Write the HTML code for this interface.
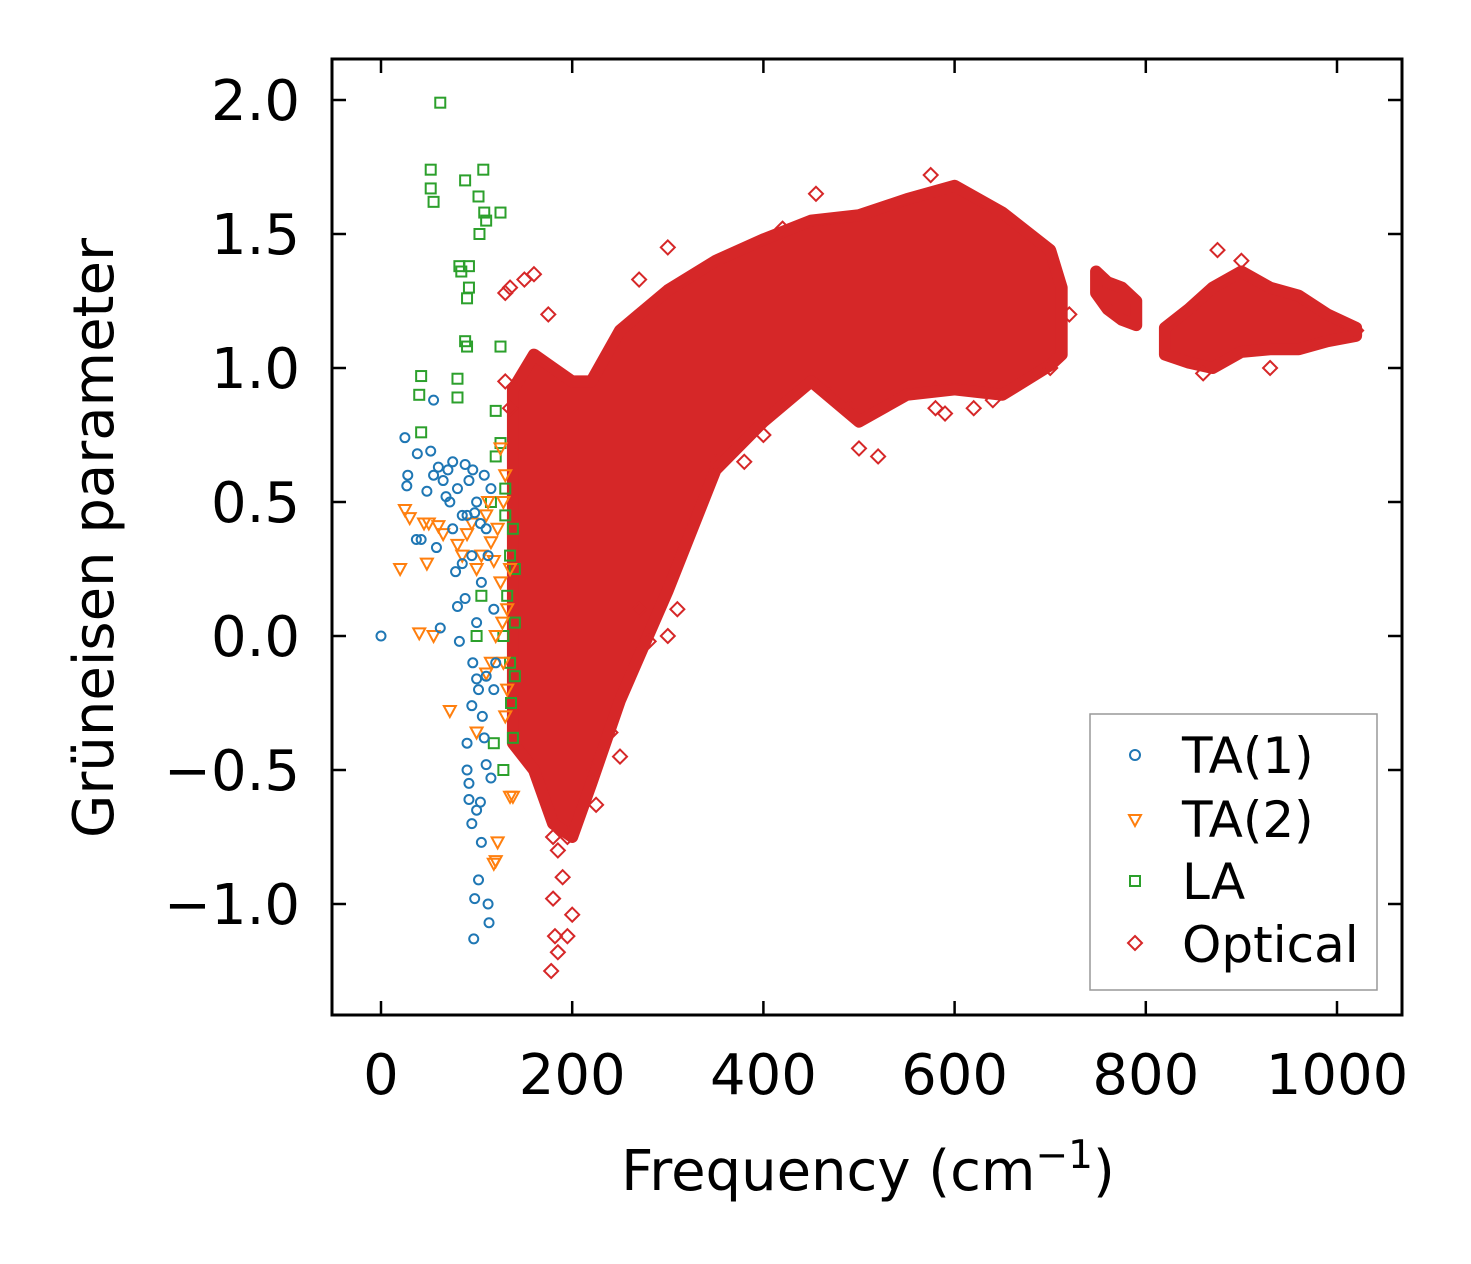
<!DOCTYPE html>
<html><head><meta charset="utf-8"><style>
html,body{margin:0;padding:0;background:#fff}
svg{display:block}
text{font-family:"DejaVu Sans","Liberation Sans",sans-serif;fill:#000}
</style></head><body>
<svg id="chart" width="1471" height="1264" viewBox="0 0 1471 1264" xmlns="http://www.w3.org/2000/svg">
<g id="plot"></g>
<rect x="332" y="59" width="1070" height="956" fill="none" stroke="#000" stroke-width="3"/>
<g id="axes"></g>
<text x="868" y="1190" font-size="56" text-anchor="middle">Frequency (cm<tspan dy="-22" font-size="39">−1</tspan><tspan dy="22">)</tspan></text>
<text transform="translate(113,538) rotate(-90)" font-size="56" text-anchor="middle">Grüneisen parameter</text>
<g>
<rect x="1090" y="714" width="287" height="276" fill="#fff" stroke="#999" stroke-width="1.5"/>
<circle cx="1135" cy="755" r="5" fill="none" stroke="#1f77b4" stroke-width="2"/>
<text x="1182" y="773" font-size="50">TA(1)</text>
<path d="M1129,815 L1141,815 L1135,826 Z" fill="none" stroke="#ff7f0e" stroke-width="2"/>
<text x="1182" y="837" font-size="50">TA(2)</text>
<rect x="1130" y="876" width="10" height="10" fill="none" stroke="#2ca02c" stroke-width="2"/>
<text x="1182" y="899" font-size="50">LA</text>
<path d="M1135,936 L1142,943 L1135,950 L1128,943 Z" fill="none" stroke="#d62728" stroke-width="2"/>
<text x="1182" y="962" font-size="50">Optical</text>
</g>
</svg>
<script>
const xTicks=[0,200,400,600,800,1000];
const yTicks=[-1.0,-0.5,0.0,0.5,1.0,1.5,2.0];
const yTickLabels=["−1.0","−0.5","0.0","0.5","1.0","1.5","2.0"];
const ta1=[[0,0],[25,0.74],[27,0.56],[28,0.6],[38,0.68],[37,0.36],[42,0.36],[48,0.54],[52,0.69],[55,0.88],[55,0.6],[58,0.33],[60,0.63],[62,0.03],[65,0.58],[70,0.62],[72,0.5],[75,0.4],[78,0.24],[80,0.11],[82,-0.02],[85,0.27],[88,0.14],[90,-0.4],[90,-0.5],[92,-0.55],[92,-0.61],[95,-0.7],[95,-0.26],[96,-0.1],[98,-0.98],[97,-1.13],[100,-0.65],[102,-0.91],[104,-0.62],[105,-0.77],[108,-0.38],[110,-0.48],[112,-1.0],[113,-1.07],[115,-0.53],[118,-0.2],[100,0.05],[105,0.2],[110,0.4],[115,0.55],[90,0.45],[100,0.5],[108,0.6],[112,0.3],[95,0.3],[102,-0.2],[106,-0.3],[118,0.1],[120,-0.1],[85,0.45],[80,0.55],[75,0.65],[68,0.52],[92,0.58],[98,0.46],[104,0.42],[88,0.64],[96,0.62],[110,-0.15],[100,-0.16]];
const ta2=[[20,0.25],[25,0.47],[30,0.44],[40,0.01],[48,0.27],[50,0.42],[55,0.0],[60,0.41],[72,-0.28],[80,0.34],[85,0.3],[90,0.38],[95,0.42],[100,0.25],[105,0.3],[110,0.45],[115,0.35],[118,-0.85],[120,-0.84],[122,-0.77],[125,0.7],[128,0.5],[130,-0.3],[132,-0.2],[135,-0.6],[138,-0.6],[125,0.2],[120,0.0],[115,-0.1],[130,0.6],[100,-0.36],[110,-0.14],[127,0.05],[135,0.25],[112,0.5],[118,0.28],[122,0.4],[128,-0.1],[132,0.1],[45,0.42],[65,0.38]];
const la=[[62,1.99],[52,1.74],[52,1.67],[55,1.62],[88,1.7],[102,1.64],[107,1.74],[108,1.58],[110,1.55],[103,1.5],[125,1.58],[82,1.38],[84,1.36],[92,1.38],[90,1.26],[92,1.3],[88,1.1],[90,1.08],[125,1.08],[42,0.97],[40,0.9],[80,0.96],[80,0.89],[42,0.76],[120,0.84],[120,0.67],[125,0.72],[130,0.55],[130,0.45],[135,0.3],[140,0.25],[132,0.15],[128,0.0],[135,-0.1],[140,-0.15],[138,-0.38],[128,-0.5],[118,-0.4],[115,0.5],[105,0.15],[100,0.0],[138,0.4],[140,0.05],[136,-0.25]];
const optFreq=[138,160,180,200,220,250,300,350,400,450,500,550,600,650,700,712];
const optLow=[-0.4,-0.5,-0.7,-0.75,-0.55,-0.24,0.17,0.62,0.8,0.95,0.8,0.9,0.92,0.9,1.01,1.05];
const optHigh=[0.92,1.05,1.0,0.95,0.95,1.14,1.29,1.4,1.48,1.55,1.57,1.63,1.68,1.58,1.44,1.3];
const isl1Freq=[748,760,775,790];
const isl1Low=[1.28,1.22,1.18,1.16];
const isl1High=[1.36,1.32,1.3,1.25];
const isl2Freq=[820,845,870,900,930,960,990,1020];
const isl2Low=[1.05,1.02,1.0,1.06,1.07,1.07,1.1,1.12];
const isl2High=[1.15,1.22,1.3,1.36,1.3,1.27,1.2,1.15];
const optSparse=[[130,1.28],[135,1.3],[150,1.33],[160,1.35],[175,1.2],[130,0.95],[135,0.85],[180,-0.75],[185,-0.8],[180,-0.98],[182,-1.12],[185,-1.18],[178,-1.25],[195,-1.12],[200,-1.04],[190,-0.9],[195,-0.75],[225,-0.63],[220,-0.5],[250,-0.45],[240,-0.36],[270,1.33],[300,1.45],[310,0.1],[300,0.0],[280,-0.02],[270,0.1],[350,0.65],[380,0.65],[400,0.75],[420,1.52],[455,1.65],[575,1.72],[500,0.7],[520,0.67],[580,0.85],[620,0.85],[640,0.88],[700,1.0],[720,1.2],[875,1.44],[900,1.4],[860,0.98],[930,1.0],[1020,1.14],[470,0.9],[490,0.85],[590,0.83]];
const X=v=>381+v*0.956;
const Y=v=>636-v*268;
const NS="http://www.w3.org/2000/svg";
const plot=document.getElementById('plot'),axes=document.getElementById('axes');
function mk(tag,parent,attrs){const e=document.createElementNS(NS,tag);for(const k in attrs)e.setAttribute(k,attrs[k]);parent.appendChild(e);return e;}
function band(fr,lo,hi,name){
  let d='M'+fr.map((f,i)=>X(f)+','+Y(hi[i])).join(' L');
  for(let i=fr.length-1;i>=0;i--)d+=' L'+X(fr[i])+','+Y(lo[i]);
  const p=mk('path',plot,{d:d+' Z',fill:'#d62728',stroke:'#d62728','stroke-width':12,'stroke-linejoin':'round'});
  
  
}
band(optFreq,optLow,optHigh,'optical-main-band');
band(isl1Freq,isl1Low,isl1High,'optical-island-750');
band(isl2Freq,isl2Low,isl2High,'optical-island-900');
optSparse.forEach(p=>{const x=X(p[0]),y=Y(p[1]);
  const e=mk('path',plot,{d:`M${x},${y-7} L${x+7},${y} L${x},${y+7} L${x-7},${y} Z`,fill:'none',stroke:'#d62728','stroke-width':2});
  
  });
la.forEach(p=>{const e=mk('rect',plot,{x:X(p[0])-5,y:Y(p[1])-5,width:10,height:10,fill:'none',stroke:'#2ca02c','stroke-width':2});
  
  });
ta2.forEach(p=>{const x=X(p[0]),y=Y(p[1]);
  const e=mk('path',plot,{d:`M${x-6},${y-5} L${x+6},${y-5} L${x},${y+6} Z`,fill:'none',stroke:'#ff7f0e','stroke-width':2});
  
  });
ta1.forEach(p=>{const e=mk('circle',plot,{cx:X(p[0]),cy:Y(p[1]),r:4.5,fill:'none',stroke:'#1f77b4','stroke-width':2});
  
  });
xTicks.forEach(t=>{const x=X(t);
  mk('line',axes,{x1:x,x2:x,y1:1015,y2:1001,stroke:'#000','stroke-width':2.5});
  mk('line',axes,{x1:x,x2:x,y1:59,y2:73,stroke:'#000','stroke-width':2.5});
  const l=mk('text',axes,{x:x,y:1094,'font-size':56,'text-anchor':'middle'});l.textContent=t;
  
  });
yTicks.forEach((t,i)=>{const y=Y(t);
  mk('line',axes,{x1:332,x2:346,y1:y,y2:y,stroke:'#000','stroke-width':2.5});
  mk('line',axes,{x1:1402,x2:1388,y1:y,y2:y,stroke:'#000','stroke-width':2.5});
  const l=mk('text',axes,{x:300,y:y+20,'font-size':56,'text-anchor':'end'});l.textContent=yTickLabels[i];
  
  });
</script>
</body></html>
